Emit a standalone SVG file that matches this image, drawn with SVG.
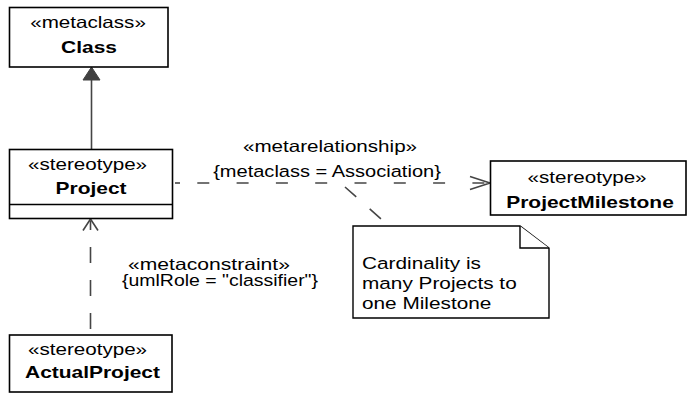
<svg xmlns="http://www.w3.org/2000/svg" width="687" height="394" viewBox="0 0 687 394">
<style>
.box{fill:#fff;stroke:#000;stroke-width:1.6}
.note{fill:#fff;stroke:#000;stroke-width:1.4}
text{font-family:"Liberation Sans",Arial,sans-serif;font-size:16.5px;fill:#000}
.b{font-weight:bold}
.c{text-anchor:middle}
.ln{fill:none;stroke:#454545;stroke-width:1.6}
.hd{stroke-dasharray:12 27.3;stroke-dashoffset:14}
.vd{stroke-dasharray:16 17;stroke-dashoffset:7}
.nd{stroke-dasharray:15 18}
</style>
<rect width="687" height="394" fill="#fff"/>
<g id="connectors">
  <line class="ln" x1="91.5" y1="80" x2="91.5" y2="150"/>
  <polygon points="91.5,67 83,80 100,80" fill="#404040" stroke="#404040" stroke-width="1"/>
  <line class="ln" x1="175" y1="183" x2="180" y2="183"/>
  <line class="ln hd" x1="172" y1="183" x2="488" y2="183"/>
  <polyline class="ln" points="470,176.5 490,183 470,189.5"/>
  <line class="ln vd" x1="90.5" y1="221" x2="90.5" y2="335"/>
  <polyline class="ln" points="83,230.5 90.5,219 98,230.5"/>
  <line class="ln nd" x1="345" y1="187" x2="389" y2="226"/>
  <text class="c" transform="translate(330,152) scale(1.25,1)">«metarelationship»</text>
  <text class="c" transform="translate(327,177) scale(1.215,1)">{metaclass = Association}</text>
  <text class="c" transform="translate(209,270) scale(1.28,1)">«metaconstraint»</text>
  <text class="c" transform="translate(220,286) scale(1.18,1)">{umlRole = "classifier"}</text>
</g>
<g id="Class">
  <rect class="box" x="9.5" y="7.5" width="158.5" height="59.5"/>
  <text class="c" transform="translate(88,28) scale(1.25,1)">«metaclass»</text>
  <text class="c b" transform="translate(89,53) scale(1.27,1)">Class</text>
</g>
<g id="Project">
  <rect class="box" x="9.5" y="149.5" width="163" height="69"/>
  <line class="box" x1="9.5" y1="204.5" x2="172.5" y2="204.5"/>
  <text class="c" transform="translate(87.5,170) scale(1.25,1)">«stereotype»</text>
  <text class="c b" transform="translate(91,194) scale(1.27,1)">Project</text>
</g>
<g id="ProjectMilestone">
  <rect class="box" x="490.5" y="161" width="195.5" height="54"/>
  <text class="c" transform="translate(587,183) scale(1.25,1)">«stereotype»</text>
  <text class="c b" transform="translate(590,208) scale(1.27,1)">ProjectMilestone</text>
</g>
<g id="ActualProject">
  <rect class="box" x="9.5" y="335" width="162.5" height="57"/>
  <text class="c" transform="translate(87.5,355) scale(1.25,1)">«stereotype»</text>
  <text class="c b" transform="translate(92.5,378) scale(1.27,1)">ActualProject</text>
</g>
<g id="Note">
  <path class="note" d="M353,226 H520 L549,248 V318 H353 Z"/>
  <path class="note" d="M520,226 V248 H549" fill="none"/>
  <text transform="translate(362,269) scale(1.26,1)">Cardinality is</text>
  <text transform="translate(362,289) scale(1.26,1)">many Projects to</text>
  <text transform="translate(362,309) scale(1.26,1)">one Milestone</text>
</g>
</svg>
